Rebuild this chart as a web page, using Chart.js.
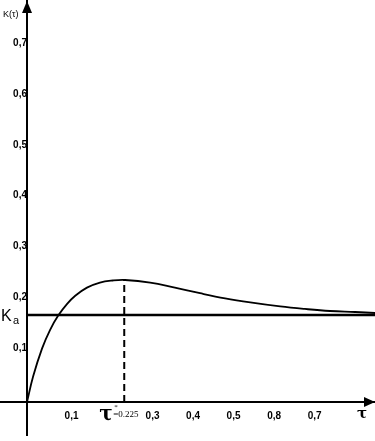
<!DOCTYPE html>
<html>
<head>
  <meta charset="utf-8">
  <title>K(tau)</title>
  <style>
    body { margin: 0; padding: 0; background: #FFF; }
    .wrap { width: 375px; height: 441px; }
  </style>
</head>
<body>
  <div class="wrap"><canvas id="kChart"></canvas></div>

  <script src="https://cdn.jsdelivr.net/npm/chart.js"></script>
  <script>
    // curve K(tau)
    const tau = [0, 0.015, 0.037, 0.057, 0.077, 0.099, 0.119, 0.148, 0.18, 0.212, 0.242,
                 0.304, 0.365, 0.427, 0.489, 0.551, 0.625, 0.686, 0.748, 0.81, 0.86];
    const kValues = [0, 0.05, 0.105, 0.142, 0.170, 0.193, 0.209, 0.225, 0.235, 0.239, 0.240,
                     0.235, 0.225, 0.214, 0.204, 0.196, 0.188, 0.183, 0.179, 0.177, 0.175];
    const kA = 0.171;          // horizontal line K_a
    const tauPeak = 0.24;      // where the dashed line stands
    const kPeak = 0.24;
    const tauStarText = '=0.225';
    const xTickLabels = { 1: '0,1', 3: '0,3', 4: '0,4', 5: '0,5', 6: '0,8', 7: '0,7' };
    const yTickLabels = { 1: '0,1', 2: '0,2', 3: '0,3', 4: '0,4', 5: '0,5', 6: '0,6', 7: '0,7' };

    const tickFont = { family: 'Arial', size: 10, weight: 'bold' };

    // centred axes should not take any room from the plot
    function noRoom(s) {
      if (s.isHorizontal()) s.height = 0; else s.width = 0;
      s.paddingTop = 0; s.paddingBottom = 0;
      s.paddingLeft = 0; s.paddingRight = 0;
    }

    // arrows and the hand written labels
    const axisDecor = {
      id: 'axisDecor',
      afterDraw(chart) {
        const ctx = chart.ctx;
        const xs = chart.scales.x, ys = chart.scales.y;
        const x0 = xs.getPixelForValue(0), y0 = ys.getPixelForValue(0);
        const area = chart.chartArea;
        ctx.save();
        ctx.fillStyle = '#000';
        // x arrow
        ctx.beginPath();
        ctx.moveTo(area.right, y0);
        ctx.lineTo(area.right - 11, y0 - 5);
        ctx.lineTo(area.right - 11, y0 + 5);
        ctx.closePath();
        ctx.fill();
        // y arrow
        ctx.beginPath();
        ctx.moveTo(x0, area.top + 1);
        ctx.lineTo(x0 - 5, area.top + 13);
        ctx.lineTo(x0 + 5, area.top + 13);
        ctx.closePath();
        ctx.fill();

        ctx.textBaseline = 'alphabetic';
        ctx.textAlign = 'left';
        ctx.font = '9px Arial';
        ctx.fillText('K(τ)', 3, 17);

        // K_a
        const yKa = ys.getPixelForValue(kA);
        ctx.font = '16px Arial';
        ctx.fillText('K', 1, yKa + 6);
        ctx.font = '11px Arial';
        ctx.fillText('a', 13, yKa + 9);

        // tau at the end of x axis
        ctx.font = 'bold 15px "DejaVu Serif"';
        ctx.fillText('τ', area.right - 18, y0 + 16);

        // tau* = 0.225
        const xp = xs.getPixelForValue(tauPeak);
        ctx.font = 'bold 20px "DejaVu Serif"';
        ctx.fillText('τ', xp - 25, y0 + 18);
        ctx.font = '7px "Liberation Serif"';
        ctx.fillText('*', xp - 10, y0 + 7);
        ctx.font = '9px "Liberation Serif"';
        ctx.fillText(tauStarText, xp - 11, y0 + 15);
        ctx.restore();
      }
    };

    const ctx = document.getElementById('kChart').getContext('2d');
    new Chart(ctx, {
      type: 'line',
      data: {
        datasets: [
          {
            data: tau.map((t, i) => ({ x: t, y: kValues[i] })),
            borderColor: '#000', borderWidth: 1.8, pointRadius: 0,
            tension: 0.4, fill: false
          },
          {
            data: [{ x: 0, y: kA }, { x: 0.86, y: kA }],
            borderColor: '#000', borderWidth: 2.5, pointRadius: 0, fill: false
          },
          {
            data: [{ x: tauPeak, y: 0 }, { x: tauPeak, y: kPeak }],
            borderColor: '#000', borderWidth: 2, borderDash: [7, 4], pointRadius: 0, fill: false
          }
        ]
      },
      options: {
        responsive: true,
        maintainAspectRatio: false,
        animation: false,
        layout: { padding: { top: 0, left: 0, right: 0, bottom: 6 } },
        plugins: { legend: { display: false }, tooltip: { enabled: false } },
        scales: {
          x: {
            type: 'linear',
            min: -0.0667, max: 0.859,
            position: { y: 0 },
            afterFit: noRoom,
            grid: { display: false },
            border: { display: true, color: '#000', width: 2 },
            ticks: {
              stepSize: 0.1, autoSkip: false, maxRotation: 0,
              color: '#000', font: tickFont, padding: 0, labelOffset: 4,
              callback: v => xTickLabels[Math.round(v * 10)] || ''
            }
          },
          y: {
            type: 'linear',
            min: -0.065, max: 0.791,
            position: { x: 0 },
            afterFit: noRoom,
            grid: { display: false },
            border: { display: true, color: '#000', width: 2 },
            ticks: {
              stepSize: 0.1, autoSkip: false,
              color: '#000', font: tickFont, padding: 6, labelOffset: -3,
              callback: v => yTickLabels[Math.round(v * 10)] || ''
            }
          }
        }
      },
      plugins: [axisDecor]
    });
  </script>
</body>
</html>
